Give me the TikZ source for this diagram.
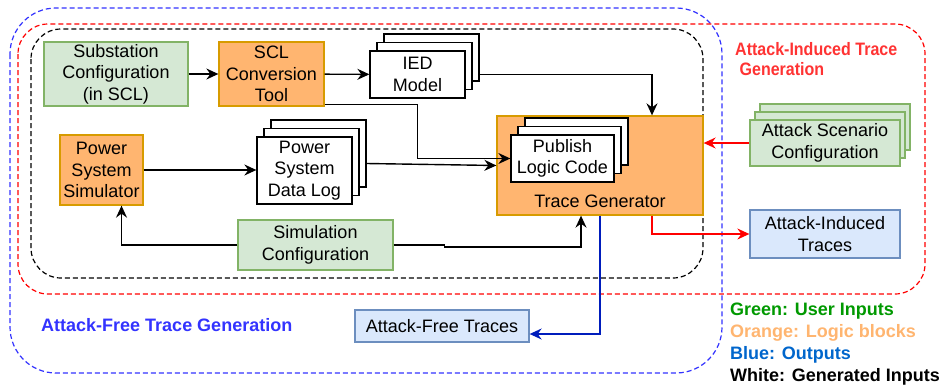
\documentclass[tikz,border=0pt]{standalone}
\usepackage{xcolor}
\usepackage{graphicx}
\usepackage{fontspec}
\setmainfont{Liberation Sans}
\usepackage{tikz}
\usetikzlibrary{arrows.meta,shadows}
\tikzset{>={Stealth[length=12pt,width=11pt,inset=4pt]}}
\definecolor{userfill}{HTML}{D5E8D4}
\definecolor{userline}{HTML}{82B366}
\definecolor{logicfill}{HTML}{FFB570}
\definecolor{logicline}{HTML}{D79B00}
\definecolor{outfill}{HTML}{DAE8FC}
\definecolor{outline}{HTML}{6C8EBF}
\definecolor{freeblue}{HTML}{3333FF}
\definecolor{attackred}{HTML}{FF3333}
\definecolor{tracered}{HTML}{FF0000}
\definecolor{darkblue}{HTML}{001DBC}
\definecolor{keygreen}{HTML}{009900}
\definecolor{keyblue}{HTML}{0066CC}
\newcommand{\boxfont}{\fontsize{18}{21.5}\selectfont}
\newcommand{\headfont}{\fontsize{18}{22}\selectfont\bfseries}
\newcommand{\narrow}[1]{\scalebox{0.89}[1]{#1}}
\tikzset{
  blk/.style={draw, line width=1.3pt, align=center, inner sep=0pt, font=\boxfont},
  user/.style={blk, fill=userfill, draw=userline},
  logic/.style={blk, fill=logicfill, draw=logicline},
  output/.style={blk, fill=outfill, draw=outline},
  gen/.style={blk, fill=white, draw=black},
  docstack/.style={copy shadow={shadow xshift=14pt,shadow yshift=17pt},
                   copy shadow={shadow xshift=7pt,shadow yshift=8.5pt}},
  region/.style={dash pattern=on 5pt off 3pt, line width=1.2pt},
  wire/.style={->, line width=1.4pt}
}

\begin{document}
\begin{tikzpicture}[x=1pt,y=-1pt]
  \useasboundingbox (0,0) rectangle (949,388);
  % dashed groups
  \draw[region, freeblue, rounded corners=46pt] (10,8) rectangle (722,373);
  \draw[region, tracered, rounded corners=30pt] (18,24) rectangle (925,294);
  \draw[region, black, rounded corners=30pt] (31,29) rectangle (703,278);

  \node[user, minimum width=144pt, minimum height=64pt] (subst) at (116,74)
    {Substation\\Configuration\\(in SCL)};
  \node[logic, minimum width=105pt, minimum height=64pt] (scl) at (271.5,74)
    {SCL\\Conversion\\Tool};
  \node[gen, docstack, minimum width=95pt, minimum height=47pt] (ied) at (417.5,74.5)
    {IED\\Model};
  \node[logic, minimum width=83pt, minimum height=70pt] (sim) at (101.5,170)
    {Power\\System\\Simulator};
  \node[gen, docstack, minimum width=95pt, minimum height=67pt] (datalog) at (304.5,170.5)
    {Power\\System\\Data Log};
  \node[logic, minimum width=206pt, minimum height=99pt,
    label={[anchor=south, inner sep=8pt, font=\boxfont]south:Trace Generator}] (tracegen) at (600,165.5) {};
  \node[gen, docstack, minimum width=103pt, minimum height=47pt] (publish) at (562.5,158.5)
    {Publish\\Logic Code};
  \node[user, copy shadow={shadow xshift=10pt,shadow yshift=16pt},
    copy shadow={shadow xshift=5pt,shadow yshift=8pt},
    minimum width=150pt, minimum height=46pt] (atkcfg) at (825,143)
    {Attack Scenario\\Configuration};
  \node[user, minimum width=155pt, minimum height=50pt] (simcfg) at (315.5,245)
    {Simulation\\Configuration};
  \node[output, minimum width=174pt, minimum height=32pt] (afree) at (442,326)
    {Attack-Free Traces};
  \node[output, minimum width=150pt, minimum height=48pt] (ainduced) at (825,234)
    {Attack-Induced\\Traces};

  \node[anchor=north west, inner sep=0pt, align=left, text=attackred,
    font=\fontsize{18}{20}\selectfont\bfseries] (induced) at (735,42)
    {\narrow{Attack-Induced Trace}\\\narrow{\ Generation}};
  \node[anchor=base west, inner sep=0pt, font=\headfont, text=freeblue] (freelabel) at (41,331.5)
    {Attack-Free Trace Generation};
  \node[anchor=north west, inner sep=0pt, align=left, font=\headfont] (legend) at (730,303)
    {\textcolor{keygreen}{Green: User Inputs}\\
     \textcolor{logicfill}{Orange: Logic blocks}\\
     \textcolor{keyblue}{Blue: Outputs}\\
     White: Generated Inputs};

  \draw[wire] (subst) -- (scl);
  \draw[wire] (scl) -- (ied);
  \draw[wire] ([xshift=14pt]ied.east) -| ([xshift=52pt]tracegen.north);
  \draw[wire] ([yshift=2pt]scl.south east) -- ++(93,0) |- (publish.west);
  \draw[wire] (sim.east) -- (sim.east -| datalog.west);
  \draw[wire] ([xshift=14pt,yshift=7pt]datalog.east) -- (tracegen.west);
  \draw[wire] (simcfg.west) -| ([xshift=20pt]sim.south);
  \draw[wire] (simcfg.east) -- ++(51,0) -- ++(0,2) -| ([xshift=-19pt]tracegen.south);
  \draw[wire, tracered] (atkcfg.west) -- (atkcfg.west -| tracegen.east);
  \draw[wire, tracered] ([xshift=52pt]tracegen.south) |- (ainduced.west);
  \draw[wire, darkblue] (tracegen.south) |- ([yshift=-8pt]afree.east);
\end{tikzpicture}
\end{document}
